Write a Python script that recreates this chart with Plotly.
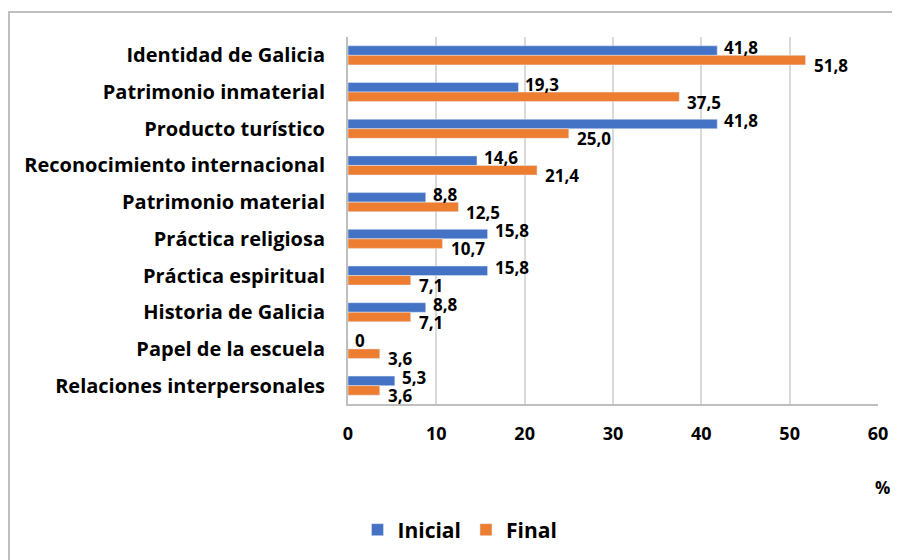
import plotly.graph_objects as go

categories = [
    "Identidad de Galicia",
    "Patrimonio inmaterial",
    "Producto turístico",
    "Reconocimiento internacional",
    "Patrimonio material",
    "Práctica religiosa",
    "Práctica espiritual",
    "Historia de Galicia",
    "Papel de la escuela",
    "Relaciones interpersonales",
]
inicial = [41.8, 19.3, 41.8, 14.6, 8.8, 15.8, 15.8, 8.8, 0, 5.3]
final = [51.8, 37.5, 25.0, 21.4, 12.5, 10.7, 7.1, 7.1, 3.6, 3.6]
x_ticks = [0, 10, 20, 30, 40, 50, 60]

BLUE = "#4472C4"
ORANGE = "#ED7D31"
FONT = "Open Sans"


def fmt(v):
    return "0" if v == 0 else f"{v:.1f}".replace(".", ",")


fig = go.Figure()
fig.add_trace(go.Bar(y=categories, x=inicial, orientation="h", name="Inicial",
                     marker=dict(color=BLUE)))
fig.add_trace(go.Bar(y=categories, x=final, orientation="h", name="Final",
                     marker=dict(color=ORANGE)))

lab_font = dict(family=FONT, size=17, color="#000000", weight="bold")
annotations = []
for cat, v in zip(categories, inicial):
    annotations.append(dict(x=v, y=cat, text=fmt(v), showarrow=False,
                            xanchor="left", yanchor="middle", xshift=5, yshift=8,
                            font=lab_font))
for cat, v in zip(categories, final):
    annotations.append(dict(x=v, y=cat, text=fmt(v), showarrow=False,
                            xanchor="left", yanchor="middle", xshift=6, yshift=-10,
                            font=lab_font))

W, H = 892, 552
L, R, T, B = 340, 22, 29, 156
PW = W - L - R
PH = H - T - B


def px_x(p):
    return (p - L) / PW


def px_y(p):
    return (H - B - p) / PH


annotations.append(dict(xref="paper", yref="paper", x=px_x(874), y=px_y(479), text="%",
                        showarrow=False, xanchor="center", yanchor="middle",
                        font=lab_font))

fig.update_layout(
    width=W, height=H,
    margin=dict(l=L, r=R, t=T, b=B, autoexpand=False),
    paper_bgcolor="white", plot_bgcolor="white",
    barmode="group", bargap=0.48, bargroupgap=0,
    font=dict(family=FONT, size=17, color="#000000", weight="bold"),
    xaxis=dict(range=[0, 60], tickvals=x_ticks, showgrid=True, gridcolor="#D9D9D9",
               gridwidth=2, zeroline=False, showline=True, linecolor="#BFBFBF",
               linewidth=2, ticks="", ticklabelstandoff=12, automargin=False,
               tickfont=dict(family=FONT, size=18, color="#000000", weight="bold")),
    yaxis=dict(type="category", categoryorder="array", categoryarray=categories,
               range=[len(categories) - 0.5, -0.5], autorange=False,
               showline=True, linecolor="#BFBFBF", linewidth=2,
               showgrid=False, ticks="", ticklabelstandoff=17, automargin=False,
               tickfont=dict(family=FONT, size=20, color="#000000", weight="bold")),
    legend=dict(orientation="h", x=px_x(452), xanchor="center", y=px_y(522),
                yanchor="middle", font=dict(family=FONT, size=21, color="#000000", weight="bold"),
                itemwidth=30, traceorder="normal"),
    annotations=annotations,
    shapes=[dict(type="rect", xref="paper", yref="paper",
                 x0=px_x(1), x1=px_x(W + 10), y0=px_y(H + 10), y1=px_y(4),
                 line=dict(color="#BFBFBF", width=2), layer="below")],
)

fig.write_html("out.html")
